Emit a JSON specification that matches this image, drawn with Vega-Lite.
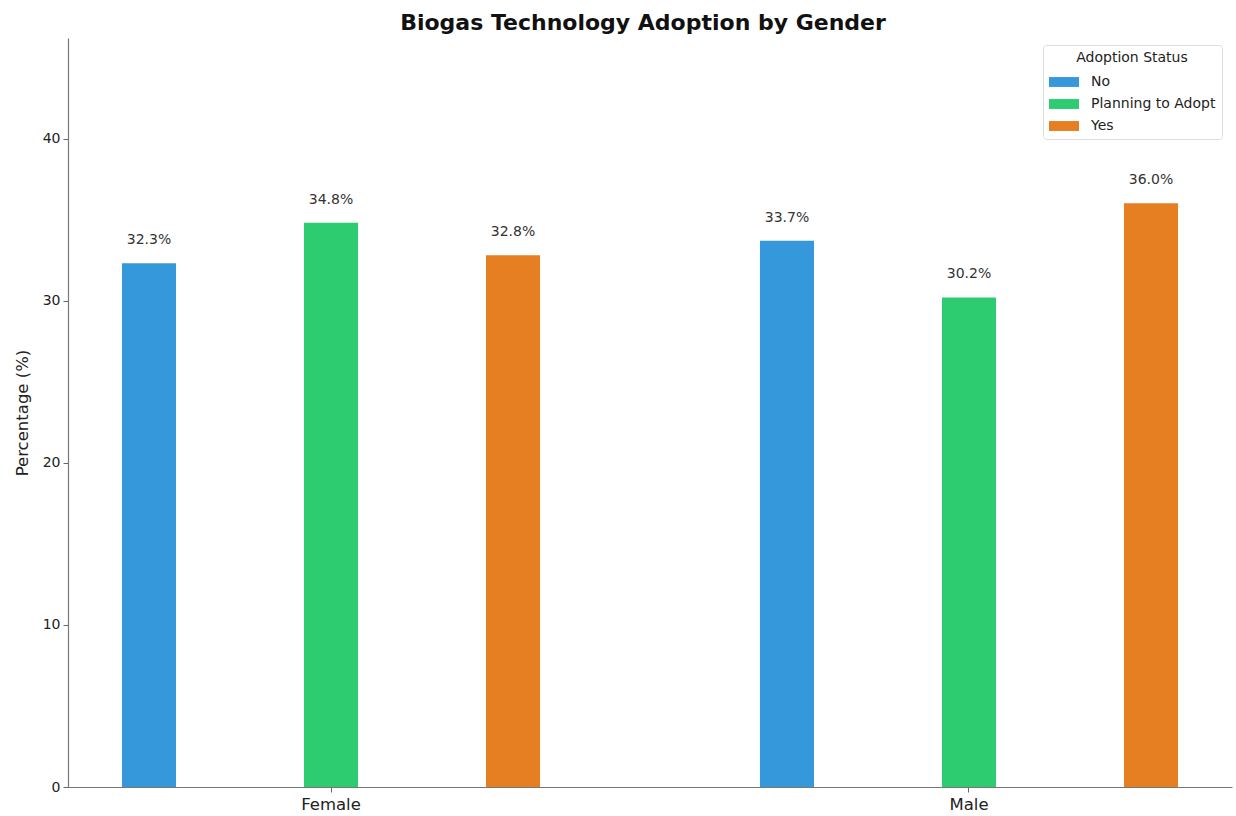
{
  "$schema": "https://vega.github.io/schema/vega-lite/v6.json",
  "autosize": {"type": "none"},
  "padding": {"left": 68, "top": 38, "right": 4, "bottom": 29},
  "width": 1164,
  "height": 749,
  "background": "white",
  "config": {
    "font": "DejaVu Sans",
    "view": {"stroke": null},
    "locale": {
      "number": {"decimal": ".", "thousands": ",", "grouping": [3], "currency": ["", "%"]}
    }
  },
  "title": {
    "text": "Biogas Technology Adoption by Gender",
    "fontSize": 22,
    "fontWeight": "bold",
    "font": "DejaVu Sans",
    "color": "#111111",
    "anchor": "middle",
    "offset": 3,
    "dx": -7
  },
  "data": {
    "values": [
      {"gender": "Female", "status": "No", "pct": 32.3},
      {"gender": "Female", "status": "Planning to Adopt", "pct": 34.8},
      {"gender": "Female", "status": "Yes", "pct": 32.8},
      {"gender": "Male", "status": "No", "pct": 33.7},
      {"gender": "Male", "status": "Planning to Adopt", "pct": 30.2},
      {"gender": "Male", "status": "Yes", "pct": 36.0}
    ]
  },
  "encoding": {
    "x": {
      "field": "gender",
      "type": "nominal",
      "scale": {"paddingInner": 0.1755, "paddingOuter": 0},
      "axis": {
        "title": null,
        "labelAngle": 0,
        "labelFontSize": 16.5,
        "labelColor": "#222222",
        "labelPadding": 4,
        "tickColor": "#666666",
        "tickSize": 5,
        "domainColor": "#777777",
        "domainWidth": 1.2,
        "grid": false
      }
    },
    "xOffset": {
      "field": "status",
      "type": "nominal",
      "scale": {"paddingInner": 0.703, "paddingOuter": 0.2965}
    },
    "y": {
      "field": "pct",
      "type": "quantitative",
      "scale": {"domain": [0, 46.2], "nice": false},
      "axis": {
        "title": "Percentage (%)",
        "titleFontSize": 16.5,
        "titleFontWeight": "normal",
        "titleColor": "#222222",
        "titlePadding": 12,
        "values": [0, 10, 20, 30, 40],
        "labelFontSize": 14,
        "labelColor": "#222222",
        "labelPadding": 3,
        "tickColor": "#666666",
        "tickSize": 5,
        "domainColor": "#777777",
        "domainWidth": 1.2,
        "grid": false
      }
    }
  },
  "layer": [
    {
      "mark": {"type": "bar"},
      "encoding": {
        "color": {
          "field": "status",
          "type": "nominal",
          "scale": {
            "domain": ["No", "Planning to Adopt", "Yes"],
            "range": ["#3498db", "#2ecc71", "#e67e22"]
          },
          "legend": {
            "title": "Adoption Status",
            "orient": "none",
            "legendX": 975,
            "legendY": 7,
            "titleFontSize": 14,
            "titleFontWeight": "normal",
            "titleColor": "#222222",
            "titleAnchor": "middle",
            "titlePadding": 2,
            "labelFontSize": 14,
            "labelColor": "#222222",
            "labelOffset": 12,
            "symbolType": "M-1,-0.33H1V0.33H-1Z",
            "symbolSize": 900,
            "symbolStrokeWidth": 0,
            "symbolOpacity": 1,
            "rowPadding": 0,
            "padding": 6,
            "strokeColor": "#dddddd",
            "fillColor": "white",
            "cornerRadius": 3
          }
        }
      }
    },
    {
      "mark": {"type": "text", "baseline": "alphabetic", "dy": -19, "fontSize": 14, "color": "#333333"},
      "encoding": {
        "text": {"field": "pct", "type": "quantitative", "format": "$.1f"}
      }
    }
  ]
}
